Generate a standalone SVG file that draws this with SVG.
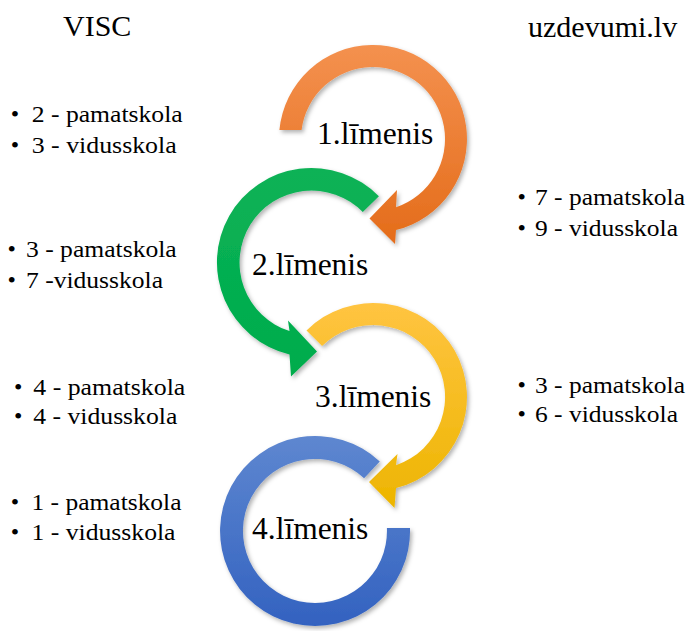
<svg xmlns="http://www.w3.org/2000/svg" width="689" height="631" viewBox="0 0 689 631" font-family="'Liberation Serif', 'DejaVu Serif', serif">
  <defs>
    <linearGradient id="gOrange" x1="0" y1="0" x2="0" y2="1">
      <stop offset="0" stop-color="#F4914F"/>
      <stop offset="1" stop-color="#E46C1A"/>
    </linearGradient>
    <linearGradient id="gGreen" x1="0" y1="0" x2="0" y2="1">
      <stop offset="0" stop-color="#0BB256"/>
      <stop offset="1" stop-color="#00AC4C"/>
    </linearGradient>
    <linearGradient id="gYellow" x1="0" y1="0" x2="0" y2="1">
      <stop offset="0" stop-color="#FFC441"/>
      <stop offset="1" stop-color="#EDB500"/>
    </linearGradient>
    <linearGradient id="gBlue" x1="0" y1="0" x2="0" y2="1">
      <stop offset="0" stop-color="#5E87D0"/>
      <stop offset="1" stop-color="#3362C0"/>
    </linearGradient>
    <filter id="shadow" x="-20%" y="-20%" width="140%" height="140%">
      <feDropShadow dx="2" dy="2.5" stdDeviation="2" flood-color="#000" flood-opacity="0.3"/>
    </filter>
  </defs>
  <style>
    text { font-family: 'Liberation Serif', 'DejaVu Serif', serif; fill: #000; }
    .head { font-size: 30px; }
    .level { font-size: 31.5px; }
    .item { font-size: 24px; }
    .arrow { filter: url(#shadow); }
  </style>
  <rect width="689" height="631" fill="#fff"/>

  <g id="connectors"></g>

  <g id="header-visc"><text class="head" x="63" y="36">VISC</text></g>
  <g id="header-uzdevumi"><text class="head" x="528" y="37">uzdevumi.lv</text></g>

  <g id="level1">
    <path class="arrow" fill="url(#gOrange)" d="M279.4,130 A94,94 0 1 1 396,230.1 L395,244 L369.5,218.5 L397,190 L396,207.3 A72,72 0 1 0 301.6,130 Z"/>
    <text class="level" x="317" y="143.5">1.līmenis</text>
  </g>
  <g id="level2">
    <path class="arrow" fill="url(#gGreen)" d="M378.9,196.3 A94.5,94.5 0 1 0 289.5,354.4 L291,376.5 L317,351.5 L288,320.5 L289.5,331.1 A72,72 0 1 1 362.8,212 Z"/>
    <text class="level" x="252" y="275">2.līmenis</text>
  </g>
  <g id="level3">
    <path class="arrow" fill="url(#gYellow)" d="M306.5,330.5 A94,94 0 1 1 396,488.1 L394.5,508 L369,482 L397.5,454 L396,465.2 A72,72 0 1 0 322.1,346.1 Z"/>
    <text class="level" x="315" y="407">3.līmenis</text>
  </g>
  <g id="level4">
    <path class="arrow" fill="url(#gBlue)" d="M379.8,461.5 A95,95 0 1 0 410,528 L386.9,528 A72,72 0 1 1 364.1,478.3 Z"/>
    <text class="level" x="252" y="539">4.līmenis</text>
  </g>

  <g id="visc-level1">
    <text class="item" x="15" y="121.7" text-anchor="middle">•</text>
    <text class="item" x="31.7" y="121.7" textLength="151" lengthAdjust="spacingAndGlyphs">2 - pamatskola</text>
    <text class="item" x="15" y="153.3" text-anchor="middle">•</text>
    <text class="item" x="31.7" y="153.3" textLength="145" lengthAdjust="spacingAndGlyphs">3 - vidusskola</text>
  </g>
  <g id="uzdevumi-level1">
    <text class="item" x="521.7" y="205" text-anchor="middle">•</text>
    <text class="item" x="535" y="205" textLength="150" lengthAdjust="spacingAndGlyphs">7 - pamatskola</text>
    <text class="item" x="521.7" y="236" text-anchor="middle">•</text>
    <text class="item" x="535" y="236" textLength="143" lengthAdjust="spacingAndGlyphs">9 - vidusskola</text>
  </g>
  <g id="visc-level2">
    <text class="item" x="11.7" y="256.7" text-anchor="middle">•</text>
    <text class="item" x="26" y="256.7" textLength="150.7" lengthAdjust="spacingAndGlyphs">3 - pamatskola</text>
    <text class="item" x="11.7" y="288.3" text-anchor="middle">•</text>
    <text class="item" x="26" y="288.3" textLength="137" lengthAdjust="spacingAndGlyphs">7 -vidusskola</text>
  </g>
  <g id="visc-level3">
    <text class="item" x="18.3" y="395" text-anchor="middle">•</text>
    <text class="item" x="33.3" y="395" textLength="152" lengthAdjust="spacingAndGlyphs">4 - pamatskola</text>
    <text class="item" x="18.3" y="424.3" text-anchor="middle">•</text>
    <text class="item" x="33.3" y="424.3" textLength="144" lengthAdjust="spacingAndGlyphs">4 - vidusskola</text>
  </g>
  <g id="uzdevumi-level3">
    <text class="item" x="521.7" y="392.5" text-anchor="middle">•</text>
    <text class="item" x="535" y="392.5" textLength="150" lengthAdjust="spacingAndGlyphs">3 - pamatskola</text>
    <text class="item" x="521.7" y="422" text-anchor="middle">•</text>
    <text class="item" x="535" y="422" textLength="143" lengthAdjust="spacingAndGlyphs">6 - vidusskola</text>
  </g>
  <g id="visc-level4">
    <text class="item" x="15" y="510" text-anchor="middle">•</text>
    <text class="item" x="31.5" y="510" textLength="150" lengthAdjust="spacingAndGlyphs">1 - pamatskola</text>
    <text class="item" x="15" y="540" text-anchor="middle">•</text>
    <text class="item" x="31.5" y="540" textLength="144" lengthAdjust="spacingAndGlyphs">1 - vidusskola</text>
  </g>
</svg>
